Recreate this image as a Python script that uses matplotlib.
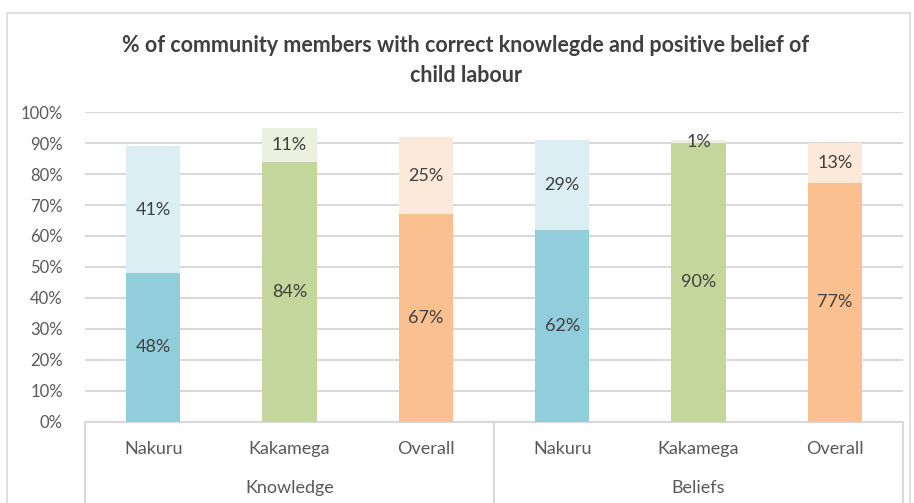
import matplotlib
matplotlib.use('Agg')
import matplotlib.pyplot as plt
import matplotlib.patches as patches
import matplotlib.transforms as mtransforms
import numpy as np

plt.rcParams['font.family'] = ['Lato', 'DejaVu Sans']

categories = ['Nakuru', 'Kakamega', 'Overall', 'Nakuru', 'Kakamega', 'Overall']
groups = ['Knowledge', 'Beliefs']
bottom_vals = [48, 84, 67, 62, 90, 77]
top_vals = [41, 11, 25, 29, 1, 13]
bottom_colors = ['#92CDDC', '#C3D69B', '#FAC090', '#92CDDC', '#C3D69B', '#FAC090']
top_colors = ['#DAEEF3', '#EBF1DE', '#FDE9D9', '#DAEEF3', '#EBF1DE', '#FDE9D9']
yticks = [0, 10, 20, 30, 40, 50, 60, 70, 80, 90, 100]

fig = plt.figure(figsize=(9.14, 5.03), dpi=100)
W, H = 914., 503.
# outer chart frame
fig.patches.append(patches.Rectangle((7/W, -0.05), 903/W, 1.05 - 13/H, transform=fig.transFigure,
                                     fill=False, edgecolor='#D9D9D9', linewidth=1.2))

ax = fig.add_axes([85/W, (H-421.5)/H, 818/W, (421.5-112.3)/H])
x = np.arange(len(categories))
ax.bar(x, bottom_vals, width=0.4, color=bottom_colors, zorder=3)
ax.bar(x, top_vals, width=0.4, bottom=bottom_vals, color=top_colors, zorder=3)

for i in range(len(x)):
    ax.text(x[i], bottom_vals[i]/2., '{}%'.format(bottom_vals[i]), ha='center', va='center',
            fontsize=13, color='#404040', zorder=4)
    ax.text(x[i], bottom_vals[i] + top_vals[i]/2., '{}%'.format(top_vals[i]), ha='center', va='center',
            fontsize=13, color='#404040', zorder=4)

ax.set_xlim(-0.5, len(x) - 0.5)
ax.set_ylim(0, 100)
ax.set_yticks(yticks)
ax.set_yticklabels(['{}%'.format(t) for t in yticks], fontsize=12, color='#595959')
ax.tick_params(axis='y', length=0, pad=16)
ax.set_xticks([])
ax.yaxis.grid(True, color='#D9D9D9', linewidth=1.5, zorder=0)
for s in ['top', 'right', 'left']:
    ax.spines[s].set_visible(False)
ax.spines['bottom'].set_color('#D9D9D9')
ax.spines['bottom'].set_linewidth(1.5)

trans = mtransforms.blended_transform_factory(ax.transData, ax.transAxes)
for i in range(len(x)):
    ax.text(x[i], -0.09, categories[i], transform=trans, ha='center', va='center',
            fontsize=13, color='#595959')
for g in range(len(groups)):
    ax.text(g*3 + 1, -0.215, groups[g], transform=trans, ha='center', va='center',
            fontsize=13, color='#595959')
for xs in [-0.5, 2.5, 5.5]:
    ax.plot([xs, xs], [0, -0.3], transform=trans, color='#D9D9D9', linewidth=1.5, clip_on=False)

fig.text(466/W, (H-45)/H, '% of community members with correct knowlegde and positive belief of',
         ha='center', va='center', fontsize=15.5, fontweight='bold', color='#404040')
fig.text(466/W, (H-75)/H, 'child labour', ha='center', va='center', fontsize=15.5,
         fontweight='bold', color='#404040')

fig.savefig('out.png', dpi=100)
